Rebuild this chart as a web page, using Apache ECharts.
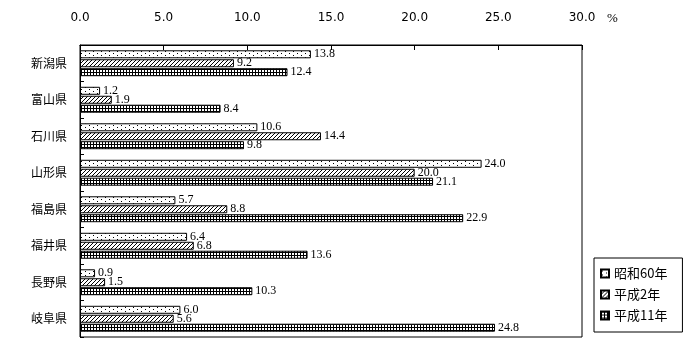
<!DOCTYPE html>
<html><head><meta charset="utf-8">
<script src="https://cdn.jsdelivr.net/npm/echarts@6/dist/echarts.min.js"></script>
<style>html,body{margin:0;padding:0;background:#fff}#c{width:700px;height:360px}</style>
</head><body><div id="c"></div>
<script>
const categories = ['新潟県','富山県','石川県','山形県','福島県','福井県','長野県','岐阜県'];
const seriesNames = ['昭和60年','平成2年','平成11年'];
const s60 = [13.8, 1.2, 10.6, 24.0, 5.7, 6.4, 0.9, 6.0];
const h2  = [9.2, 1.9, 14.4, 20.0, 8.8, 6.8, 1.5, 5.6];
const h11 = [12.4, 8.4, 9.8, 21.1, 22.9, 13.6, 10.3, 24.8];
const xTicks = [0, 5, 10, 15, 20, 25, 30];

function makePattern(kind){
  const c = document.createElement('canvas');
  const ctx = c.getContext('2d');
  if (kind === 'dots'){
    c.width = 8; c.height = 4;
    ctx.fillStyle = '#fff'; ctx.fillRect(0,0,8,4);
    ctx.fillStyle = '#000';
    ctx.fillRect(1,1,1,1); ctx.fillRect(5,3,1,1);
  } else if (kind === 'diag'){
    c.width = 4; c.height = 4;
    ctx.fillStyle = '#fff'; ctx.fillRect(0,0,4,4);
    ctx.fillStyle = '#000';
    for (let i=0;i<4;i++){ ctx.fillRect(3-i, i, 1, 1); }
  } else {
    c.width = 3; c.height = 3;
    ctx.fillStyle = '#fff'; ctx.fillRect(0,0,3,3);
    ctx.fillStyle = '#000';
    ctx.fillRect(0,0,3,1); ctx.fillRect(0,0,1,3);
  }
  return {image: c, repeat: 'repeat'};
}
const patterns = [makePattern('dots'), makePattern('diag'), makePattern('grid')];
const dataSets = [s60, h2, h11];

const chart = echarts.init(document.getElementById('c'), null, {renderer:'canvas'});
const valueFont = '"Liberation Serif", "DejaVu Serif", serif';
chart.setOption({
  animation: false,
  backgroundColor: '#fff',
  grid: {left: 80, right: 118, top: 45, bottom: 23, show: true, borderColor: '#000', borderWidth: 1, backgroundColor: 'transparent'},
  xAxis: {
    type: 'value', position: 'top', min: 0, max: 30, interval: 5,
    axisLine: {show: true, lineStyle: {color: '#000', width: 1}},
    axisTick: {show: true, inside: true, length: 5, lineStyle: {color: '#000'}},
    splitLine: {show: false},
    axisLabel: {margin: 21, color: '#000', fontSize: 12, fontFamily: '"DejaVu Sans", sans-serif',
      formatter: v => xTicks.includes(v) ? v.toFixed(1) : ''}
  },
  yAxis: {
    type: 'category', data: categories, inverse: true,
    axisLine: {show: true, lineStyle: {color: '#000', width: 1}},
    axisTick: {show: true, inside: true, length: 4, lineStyle: {color: '#000'}},
    axisLabel: {margin: 13, color: '#000', fontSize: 12, fontFamily: '"Noto Sans CJK JP"'}
  },
  legend: {
    orient: 'vertical', left: 594, top: 258,
    data: seriesNames,
    itemWidth: 8, itemHeight: 8, itemGap: 8,
    padding: [9, 15, 10, 6],
    borderColor: '#000', borderWidth: 1, borderRadius: 0,
    icon: 'rect',
    textStyle: {color: '#000', fontSize: 13, fontFamily: '"Noto Sans CJK JP"'}
  },
  graphic: [{type: 'text', left: 607, top: 12, style: {text: '%', fill: '#000', font: '13px "Liberation Serif", serif'}}],
  series: dataSets.map((d, i) => ({
    name: seriesNames[i], type: 'bar', data: d,
    barWidth: 8, barGap: '12%',
    itemStyle: {color: patterns[i], borderColor: '#000', borderWidth: 1},
    label: {show: true, position: 'right', distance: 3, color: '#000', fontSize: 12, fontFamily: valueFont,
      formatter: p => p.value.toFixed(1)}
  }))
});
</script>
</body></html>
